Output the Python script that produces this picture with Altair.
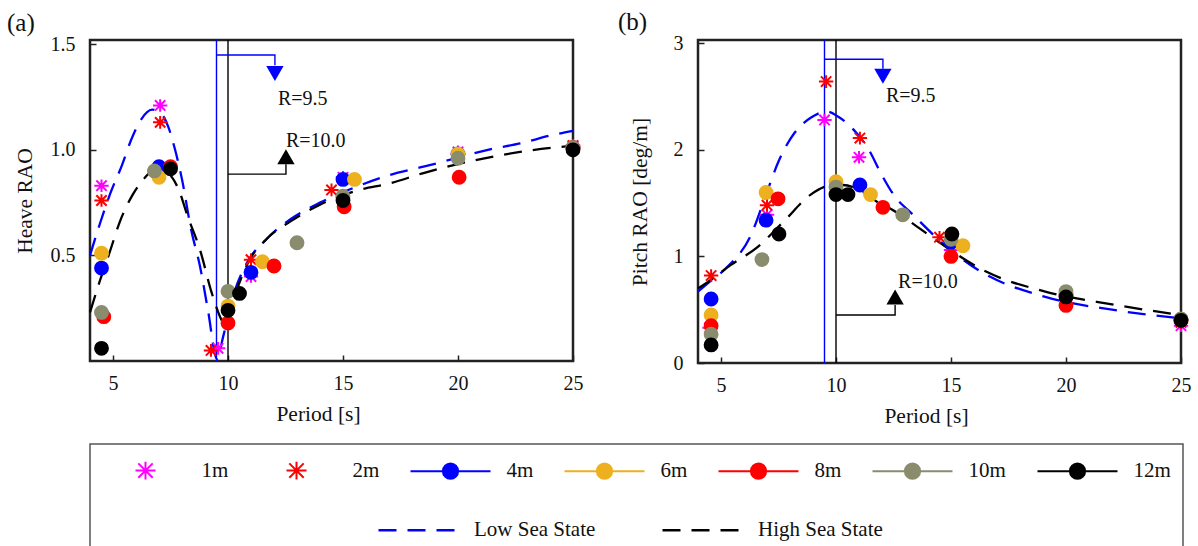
import altair as alt
import pandas as pd

FONT = "Liberation Serif"
TXT = "#111111"

# ---------------- categories / styles ----------------
sizes = ["1m", "2m", "4m", "6m", "8m", "10m", "12m"]
size_colors = ["#FF00FF", "#FF0000", "#0000FF", "#EDB120", "#FF0000", "#8A8C6E", "#000000"]
states = ["Low Sea State", "High Sea State"]
state_colors = ["#0000FF", "#000000"]
period_ticks = [5, 10, 15, 20, 25]
heave_ticks = [0.5, 1.0, 1.5]
pitch_ticks = [0, 1, 2, 3]
r_values = [9.5, 10.0]
r_labels = ["R=9.5", "R=10.0"]

# ---------------- heave measurements (period, RAO) ----------------
heave_1m = [(4.5, 0.83), (7.05, 1.21), (9.57, 0.06), (11.0, 0.40), (15.0, 0.87), (20.0, 0.99), (25.0, 1.02)]
heave_2m = [(4.5, 0.76), (7.05, 1.13), (9.26, 0.05), (11.0, 0.48), (14.5, 0.81), (20.0, 0.98), (25.0, 1.02)]
heave_4m = [(4.5, 0.44), (7.0, 0.92), (11.0, 0.42), (15.0, 0.86), (20.0, 0.98), (25.0, 1.01)]
heave_6m = [(4.5, 0.51), (7.0, 0.87), (10.0, 0.26), (11.5, 0.47), (15.5, 0.86), (20.0, 0.98), (25.0, 1.01)]
heave_8m = [(4.6, 0.21), (7.5, 0.92), (10.0, 0.18), (12.0, 0.45), (15.05, 0.73), (20.05, 0.87), (25.0, 1.01)]
heave_10m = [(4.5, 0.23), (6.8, 0.90), (10.0, 0.33), (13.0, 0.56), (15.0, 0.78), (20.0, 0.96), (25.0, 1.01)]
heave_12m = [(4.5, 0.06), (7.5, 0.91), (10.0, 0.24), (10.5, 0.32), (15.0, 0.76), (25.0, 1.00)]

heave_low = [(4.0, 0.50), (4.43, 0.65), (4.87, 0.79), (5.4, 0.93), (5.8, 1.05), (6.2, 1.14), (6.7, 1.19),
             (7.1, 1.17), (7.4, 1.11), (7.7, 1.00), (8.0, 0.86), (8.4, 0.62), (8.78, 0.45), (9.13, 0.24),
             (9.52, 0.01), (9.8, 0.12), (10.2, 0.30), (10.8, 0.46), (11.7, 0.58), (12.7, 0.67), (14.0, 0.75),
             (15.7, 0.83), (17.0, 0.88), (18.5, 0.92), (19.9, 0.96), (21.3, 1.00), (22.7, 1.03), (24.1, 1.07),
             (25.0, 1.09)]
heave_high = [(4.0, 0.23), (4.43, 0.38), (4.87, 0.52), (5.3, 0.66), (5.87, 0.79), (6.4, 0.87), (7.0, 0.92),
              (7.5, 0.88), (7.9, 0.80), (8.2, 0.70), (8.8, 0.52), (9.3, 0.32), (9.74, 0.19), (9.95, 0.16),
              (10.2, 0.27), (10.8, 0.45), (11.7, 0.58), (12.7, 0.66), (14.0, 0.74), (15.7, 0.81), (17.0, 0.84),
              (18.5, 0.89), (19.9, 0.93), (22.7, 0.99), (25.0, 1.02)]

# ---------------- pitch measurements (period, RAO deg/m) ----------------
pitch_1m = [(4.5, 0.33), (7.0, 1.39), (9.5, 2.28), (11.0, 1.93), (15.0, 1.06), (20.0, 0.63), (25.0, 0.35)]
pitch_2m = [(4.57, 0.82), (7.0, 1.48), (9.57, 2.64), (11.04, 2.11), (14.5, 1.18), (20.0, 0.63), (25.0, 0.38)]
pitch_4m = [(4.57, 0.60), (6.96, 1.34), (11.04, 1.67), (15.0, 1.13), (20.0, 0.64), (25.0, 0.41)]
pitch_6m = [(4.57, 0.45), (6.96, 1.60), (10.0, 1.70), (11.5, 1.58), (15.52, 1.10), (20.0, 0.64), (25.0, 0.41)]
pitch_8m = [(4.57, 0.35), (7.48, 1.54), (12.04, 1.46), (15.0, 1.00), (20.0, 0.54), (25.0, 0.40)]
pitch_10m = [(4.57, 0.27), (6.78, 0.97), (10.0, 1.65), (12.9, 1.39), (15.0, 1.16), (20.0, 0.67), (25.0, 0.41)]
pitch_12m = [(4.57, 0.17), (7.52, 1.21), (10.0, 1.58), (10.52, 1.58), (15.04, 1.21), (20.0, 0.62), (25.0, 0.40)]

pitch_low = [(4.0, 0.67), (4.5, 0.76), (5.17, 0.88), (6.3, 1.20), (7.04, 1.63), (7.5, 1.89), (8.2, 2.16),
             (8.9, 2.30), (9.6, 2.36), (10.1, 2.31), (10.8, 2.18), (11.4, 2.01), (12.0, 1.76), (12.5, 1.58),
             (13.4, 1.38), (14.6, 1.13), (16.2, 0.87), (19.1, 0.62), (22.0, 0.50), (25.0, 0.42)]
pitch_high = [(4.0, 0.70), (4.43, 0.76), (5.43, 0.92), (6.6, 1.09), (7.78, 1.34), (8.9, 1.58), (9.65, 1.66),
              (10.3, 1.67), (10.96, 1.63), (11.96, 1.49), (12.26, 1.46), (13.26, 1.32), (14.3, 1.16),
              (16.5, 0.86), (19.1, 0.67), (22.0, 0.55), (25.0, 0.45)]

# ---------------- annotation read-offs (period, value) ----------------
heave_r95_path = [(9.5, 1.449), (12.04, 1.449), (12.04, 1.40)]
heave_r95_head = (12.04, 1.361)
heave_r95_text = (12.17, 1.24)
heave_r10_path = [(10.0, 0.885), (12.52, 0.885), (12.52, 0.932)]
heave_r10_head = (12.52, 0.967)
heave_r10_text = (12.52, 1.041)

pitch_r95_path = [(9.5, 2.85), (12.04, 2.85), (12.04, 2.76)]
pitch_r95_head = (12.04, 2.69)
pitch_r95_text = (12.17, 2.50)
pitch_r10_path = [(10.0, 0.45), (12.57, 0.45), (12.57, 0.545)]
pitch_r10_head = (12.57, 0.62)
pitch_r10_text = (12.7, 0.76)

# ---------------- marker shapes (unit square -1..1, scaled by symbol size) ----------------
STAR = "M-0.25,0L0.25,0M0,-0.22L0,0.22M-0.18,-0.18L0.18,0.18M-0.18,0.18L0.18,-0.18"
LINEDOT = "M-1,0L1,0M0.19,0A0.19,0.19,0,1,1,-0.19,0A0.19,0.19,0,1,1,0.19,0Z"
size_shapes = [STAR, STAR, LINEDOT, LINEDOT, LINEDOT, LINEDOT, LINEDOT]

PLOT_X0, PLOT_Y0 = 90, 38   # legend offsets are measured from the heave plot origin

leg_sizes = alt.Legend(
    title=None, orient="none", legendX=104.5 - PLOT_X0, legendY=469 - 41.5 - PLOT_Y0,
    direction="horizontal", symbolSize=6400, symbolStrokeWidth=2, symbolOpacity=1,
    labelFont=FONT, labelFontSize=21, labelColor=TXT, labelOffset=15, columnPadding=27, padding=0,
)
leg_states = alt.Legend(
    title=None, orient="none", legendX=377 - PLOT_X0, legendY=528 - 41.5 - PLOT_Y0,
    direction="horizontal", symbolSize=6400, symbolStrokeWidth=2.3, symbolOpacity=1,
    labelFont=FONT, labelFontSize=21, labelColor=TXT, labelOffset=14, columnPadding=61, padding=0,
)


def points_frame(series, names):
    rows = []
    for name, pts in zip(names, series):
        for x, y in pts:
            rows.append({"size": name, "period": x, "rao": y})
    return pd.DataFrame(rows)


def curve_frame(low, high):
    rows = [{"state": states[0], "period": x, "rao": y} for x, y in low]
    rows += [{"state": states[1], "period": x, "rao": y} for x, y in high]
    return pd.DataFrame(rows)


def path_frame(pts):
    return pd.DataFrame({"period": [p[0] for p in pts], "rao": [p[1] for p in pts],
                         "o": list(range(len(pts)))})


def panel(series, low, high, ydomain, yticks, yfmt, ytitle, ytitle_pad, letter, letter_dx, height, ann):
    X = alt.X("period:Q", scale=alt.Scale(domain=[4, 25], nice=False, zero=False),
              axis=alt.Axis(title="Period [s]", values=period_ticks, format="d", labelFlush=False,
                            domain=False, grid=False, offset=-6, tickSize=6, tickWidth=1.5,
                            tickColor="#222222", labelPadding=12, titlePadding=10, titleX=228))
    Y = alt.Y("rao:Q", scale=alt.Scale(domain=ydomain, nice=False, zero=False),
              axis=alt.Axis(title=ytitle, values=yticks, format=yfmt, labelFlush=False,
                            domain=False, grid=False, offset=-6, tickSize=6, tickWidth=1.5,
                            tickColor="#222222", labelPadding=15, titlePadding=ytitle_pad))
    fill = alt.Fill("size:N", scale=alt.Scale(domain=sizes, range=size_colors), legend=leg_sizes)
    stroke = alt.Stroke("size:N", scale=alt.Scale(domain=sizes, range=size_colors), legend=leg_sizes)
    shape = alt.Shape("size:N", scale=alt.Scale(domain=sizes, range=size_shapes), legend=leg_sizes)

    rule95 = alt.Chart(pd.DataFrame({"period": [r_values[0]]})).mark_rule(
        color="#0000FF", strokeWidth=1.4).encode(x=X)
    rule10 = alt.Chart(pd.DataFrame({"period": [r_values[1]]})).mark_rule(
        color="#000000", strokeWidth=1.4).encode(x=X)

    curves = alt.Chart(curve_frame(low, high)).mark_line(strokeWidth=2.3, interpolate="monotone").encode(
        x=X, y=Y,
        color=alt.Color("state:N", scale=alt.Scale(domain=states, range=state_colors), legend=leg_states),
        strokeDash=alt.StrokeDash("state:N", scale=alt.Scale(domain=states, range=[[18, 11], [18, 11]]),
                                  legend=leg_states),
    )

    stars = alt.Chart(points_frame(series[:2], sizes[:2])).mark_point(
        filled=False, size=3300, strokeWidth=2, opacity=1).encode(x=X, y=Y, stroke=stroke, shape=shape)
    circles = alt.Chart(points_frame(series[2:], sizes[2:])).mark_circle(
        size=165, strokeWidth=2, opacity=1).encode(x=X, y=Y, fill=fill, stroke=stroke)

    (p95, h95, t95), (p10, h10, t10) = ann
    path95 = alt.Chart(path_frame(p95)).mark_line(color="#0000FF", strokeWidth=1.4).encode(
        x=X, y=Y, order="o:O")
    path10 = alt.Chart(path_frame(p10)).mark_line(color="#000000", strokeWidth=1.4).encode(
        x=X, y=Y, order="o:O")
    head95 = alt.Chart(pd.DataFrame({"period": [h95[0]], "rao": [h95[1]]})).mark_point(
        shape="triangle-down", filled=True, size=300, color="#0000FF", opacity=1).encode(x=X, y=Y)
    head10 = alt.Chart(pd.DataFrame({"period": [h10[0]], "rao": [h10[1]]})).mark_point(
        shape="triangle-up", filled=True, size=300, color="#000000", opacity=1).encode(x=X, y=Y)
    texts = alt.Chart(pd.DataFrame({"period": [t95[0], t10[0]], "rao": [t95[1], t10[1]],
                                    "label": r_labels})).mark_text(
        align="left", baseline="middle", font=FONT, fontSize=20, color=TXT).encode(x=X, y=Y, text="label:N")

    return alt.layer(rule95, rule10, curves, stars, circles, path95, path10, head95, head10, texts).properties(
        width=483, height=height,
        title=alt.TitleParams(letter, anchor="start", frame="bounds", font=FONT, fontSize=25,
                              fontWeight="normal", color=TXT, dx=letter_dx, offset=-2),
    )


heave = panel([heave_1m, heave_2m, heave_4m, heave_6m, heave_8m, heave_10m, heave_12m],
              heave_low, heave_high, [0, 1.52], heave_ticks, ".1f", "Heave RAO", 14, "(a)", -7, 321,
              ((heave_r95_path, heave_r95_head, heave_r95_text), (heave_r10_path, heave_r10_head, heave_r10_text)))
pitch = panel([pitch_1m, pitch_2m, pitch_4m, pitch_6m, pitch_8m, pitch_10m, pitch_12m],
              pitch_low, pitch_high, [0, 3.03], pitch_ticks, "d", "Pitch RAO [deg/m]", 22, "(b)", -11, 323,
              ((pitch_r95_path, pitch_r95_head, pitch_r95_text), (pitch_r10_path, pitch_r10_head, pitch_r10_text)))

box = alt.Chart(pd.DataFrame({"v": [0]})).mark_point(opacity=0, size=1).encode(
    x=alt.value(10), y=alt.value(10)).properties(
    width=1093, height=118, view=alt.ViewBackground(stroke="#555555", strokeWidth=1.5))

chart = alt.vconcat(
    alt.hconcat(heave, pitch, spacing=30),
    box,
    spacing=15,
).properties(
    padding={"left": 5, "top": 8, "right": 0, "bottom": 0},
    background="white",
).configure_view(
    stroke="#222222", strokeWidth=2.5,
).configure_axis(
    labelFont=FONT, titleFont=FONT, labelFontSize=20, titleFontSize=21.5,
    labelColor=TXT, titleColor=TXT, titleFontWeight="normal",
).configure_legend(
    labelFont=FONT,
)

chart.save("out.html", embed_options={"renderer": "svg", "actions": False})
